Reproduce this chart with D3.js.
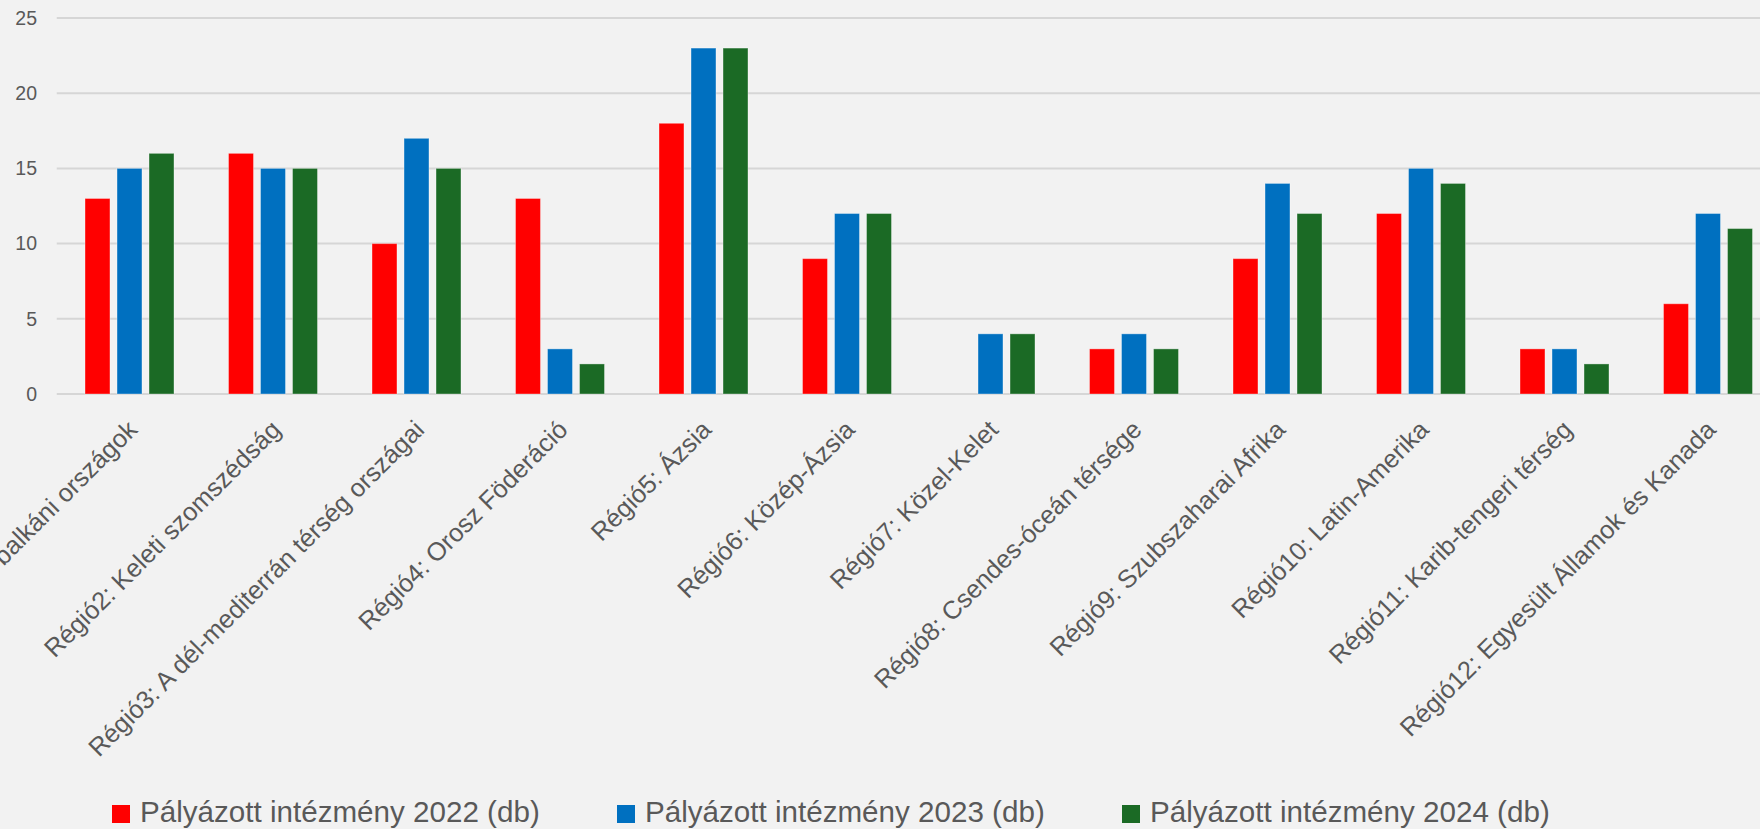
<!DOCTYPE html>
<html>
<head>
<meta charset="utf-8">
<script src="https://cdn.jsdelivr.net/npm/d3@7"></script>
<style>
  html, body { margin: 0; padding: 0; background: #F2F2F2; overflow: hidden; }
  svg { display: block; }
  text { font-family: "Liberation Sans", Arial, sans-serif; fill: #595959; }
</style>
</head>
<body>
<svg id="chart" width="1760" height="829"></svg>
<script>
const categories = [
  "Régió1: Nyugat-balkáni országok",
  "Régió2: Keleti szomszédság",
  "Régió3: A dél-mediterrán térség országai",
  "Régió4: Orosz Föderáció",
  "Régió5: Ázsia",
  "Régió6: Közép-Ázsia",
  "Régió7: Közel-Kelet",
  "Régió8: Csendes-óceán térsége",
  "Régió9: Szubszaharai Afrika",
  "Régió10: Latin-Amerika",
  "Régió11: Karib-tengeri térség",
  "Régió12: Egyesült Államok és Kanada"
];
const seriesNames = [
  "Pályázott intézmény 2022 (db)",
  "Pályázott intézmény 2023 (db)",
  "Pályázott intézmény 2024 (db)"
];
const values2022 = [13, 16, 10, 13, 18, 9, 0, 3, 9, 12, 3, 6];
const values2023 = [15, 15, 17, 3, 23, 12, 4, 4, 14, 15, 3, 12];
const values2024 = [16, 15, 15, 2, 23, 12, 4, 3, 12, 14, 2, 11];
const yTicks = [0, 5, 10, 15, 20, 25];
const colors = ["#FF0000", "#0070C0", "#1B6A25"];

const seriesValues = [values2022, values2023, values2024];
const svg = d3.select("#chart");

const plotLeft = 57.75, plotStep = 143.5;
const yBottom = 394, yTop = 18;

const x0 = d3.scaleBand().domain(categories)
  .range([plotLeft, plotLeft + plotStep * categories.length]).padding(0);
const x1 = d3.scaleBand().domain(seriesNames)
  .range([x0.bandwidth() * 0.19, x0.bandwidth() * 0.81]).paddingInner(0.22).paddingOuter(0);
const y = d3.scaleLinear().domain([0, 25]).range([yBottom, yTop]);

// gridlines
svg.append("g").selectAll("line").data(yTicks).join("line")
  .attr("x1", plotLeft - 1).attr("x2", 1760)
  .attr("y1", d => y(d)).attr("y2", d => y(d))
  .attr("stroke", "#D6D6D6").attr("stroke-width", 2);

// y axis labels
const yAxis = d3.axisLeft(y).tickValues(yTicks).tickSize(0).tickPadding(0);
const yg = svg.append("g").attr("transform", "translate(37,0)").call(yAxis);
yg.select(".domain").remove();
yg.selectAll("text").style("font-size", "19.5px").attr("fill", "#595959")
  .style("font-family", "'Liberation Sans', Arial, sans-serif");

// bars
const groups = svg.append("g").selectAll("g").data(categories).join("g")
  .attr("transform", d => `translate(${x0(d)},0)`);
groups.selectAll("rect")
  .data((c, i) => seriesNames.map((s, j) => ({ s, v: seriesValues[j][i], j })))
  .join("rect")
  .filter(d => d.v > 0)
  .attr("x", d => x1(d.s))
  .attr("width", x1.bandwidth())
  .attr("y", d => y(d.v))
  .attr("height", d => y(0) - y(d.v))
  .attr("fill", d => colors[d.j])
  .attr("stroke", "rgba(255,255,255,0.35)")
  .attr("stroke-width", 1);

// x axis category labels
const xAxis = d3.axisBottom(x0).tickSize(0).tickPadding(0);
const xg = svg.append("g").attr("transform", `translate(0,${yBottom})`).call(xAxis);
xg.select(".domain").remove();
xg.selectAll("text")
  .style("font-size", "25.5px")
  .style("font-family", "'Liberation Sans', Arial, sans-serif")
  .attr("fill", "#595959")
  .attr("text-anchor", "end")
  .attr("y", 0)
  .attr("dy", "0.35em")
  .attr("transform", "translate(3,31) rotate(-45)");

// legend
const legend = svg.append("g").selectAll("g").data(seriesNames).join("g")
  .attr("transform", (d, i) => `translate(${112 + i * 505},805)`);
legend.append("rect").attr("width", 18).attr("height", 18)
  .attr("fill", (d, i) => colors[i]);
legend.append("text").attr("x", 28).attr("y", 17)
  .style("font-size", "29.6px").text(d => d);
</script>
</body>
</html>
